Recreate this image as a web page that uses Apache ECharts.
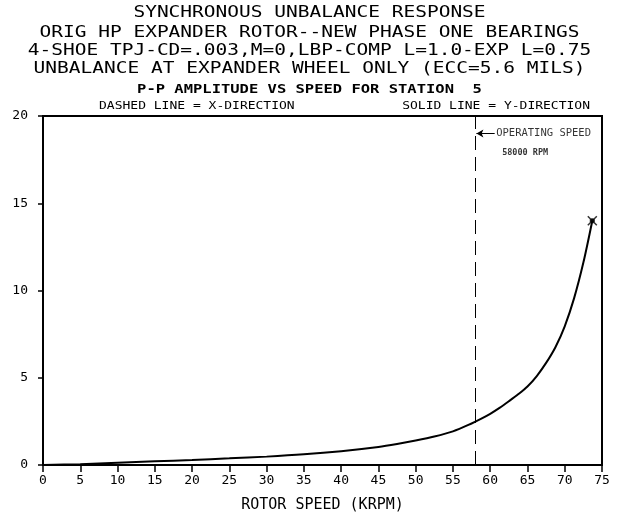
<!DOCTYPE html>
<html>
<head>
<meta charset="utf-8">
<script src="https://cdn.jsdelivr.net/npm/echarts@6/dist/echarts.min.js"></script>
<style>
  html, body { margin: 0; padding: 0; background: #fff; }
  #graph { width: 619px; height: 516px; }
</style>
</head>
<body>
<div id="graph"></div>
<script>
// rotor speed (krpm) and p-p amplitude
var speeds = [0, 5, 10, 15, 20, 25, 30, 35, 40, 45, 47.5, 50, 52.5, 55, 57.5, 58.75, 60, 61.25, 62.5, 63.75, 65, 66.25, 67.5, 68.75, 70, 71.25, 72.5, 73.7];
var amplitudes = [0, 0.05, 0.13, 0.21, 0.29, 0.38, 0.48, 0.61, 0.79, 1.03, 1.2, 1.4, 1.63, 1.93, 2.38, 2.64, 2.93, 3.27, 3.65, 4.05, 4.5, 5.1, 5.85, 6.75, 7.95, 9.55, 11.6, 14.0];

// operating speed marker
var operatingSpeed = 58;
var operatingLabel = 'OPERATING SPEED';
var operatingRpm = '58000 RPM';

// titles
var titleLines = [
    'SYNCHRONOUS UNBALANCE RESPONSE',
    'ORIG HP EXPANDER ROTOR--NEW PHASE ONE BEARINGS',
    '4-SHOE TPJ-CD=.003,M=0,LBP-COMP L=1.0-EXP L=0.75',
    'UNBALANCE AT EXPANDER WHEEL ONLY (ECC=5.6 MILS)'
];
var subTitle = 'P-P AMPLITUDE VS SPEED FOR STATION  5';
var legendLeft = 'DASHED LINE = X-DIRECTION';
var legendRight = 'SOLID LINE = Y-DIRECTION';
var xAxisName = 'ROTOR SPEED (KRPM)';

var FONT = '"DejaVu Sans Mono", monospace';

// build the curve points
var curve = [];
for (var i = 0; i < speeds.length; i++) {
    curve.push([speeds[i], amplitudes[i]]);
}
var lastPoint = curve[curve.length - 1];

var chart = echarts.init(document.getElementById('graph'));

// title texts, stretched a bit to look like the plotter font
var titleY = [13, 33, 51, 69];
var graphics = [];
for (var j = 0; j < titleLines.length; j++) {
    graphics.push({
        type: 'text', x: 309.5, y: titleY[j], scaleX: 1.3,
        style: { text: titleLines[j], font: '15px ' + FONT, fill: '#000',
                 textAlign: 'center', textVerticalAlign: 'middle' }
    });
}
graphics.push({
    type: 'text', x: 309.5, y: 90, scaleX: 1.29,
    style: { text: subTitle, font: 'bold 12px ' + FONT, fill: '#000',
             textAlign: 'center', textVerticalAlign: 'middle' }
});
graphics.push({
    type: 'text', x: 99, y: 106.5, scaleX: 1.3,
    style: { text: legendLeft, font: '10px ' + FONT, fill: '#000',
             textAlign: 'left', textVerticalAlign: 'middle' }
});
graphics.push({
    type: 'text', x: 590, y: 106.5, scaleX: 1.3,
    style: { text: legendRight, font: '10px ' + FONT, fill: '#000',
             textAlign: 'right', textVerticalAlign: 'middle' }
});

var option = {
    animation: false,
    backgroundColor: '#fff',
    graphic: graphics,
    grid: {
        left: 43, right: 17, top: 116, bottom: 51,
        outerBoundsMode: 'none',
        show: true, borderColor: '#000', borderWidth: 2
    },
    xAxis: {
        type: 'value', min: 0, max: 75, interval: 5,
        name: xAxisName, nameLocation: 'middle', nameGap: 33,
        nameTextStyle: { fontFamily: FONT, fontSize: 15, color: '#000' },
        axisLine: { show: true, lineStyle: { color: '#000', width: 2 } },
        axisTick: { show: true, length: 7, lineStyle: { color: '#000', width: 1.5 } },
        axisLabel: { fontFamily: FONT, fontSize: 13, color: '#000', margin: 9 },
        splitLine: { show: false }
    },
    yAxis: {
        type: 'value', min: 0, max: 20, interval: 5,
        axisLine: { show: true, lineStyle: { color: '#000', width: 2 } },
        axisTick: { show: true, length: 5, lineStyle: { color: '#000', width: 1.5 } },
        axisLabel: { fontFamily: FONT, fontSize: 13, color: '#000', margin: 15 },
        splitLine: { show: false }
    },
    series: [{
        // Y-direction response (solid)
        type: 'line',
        data: curve,
        smooth: 0.3,
        symbol: 'none',
        lineStyle: { color: '#000', width: 2 },
        markLine: {
            silent: true,
            symbol: ['none', 'none'],
            label: { show: false },
            lineStyle: { color: '#000', width: 1, type: [14, 7] },
            data: [{ xAxis: operatingSpeed }]
        }
    }, {
        // arrow pointing at the operating speed line
        type: 'line',
        data: [],
        markLine: {
            silent: true,
            symbol: ['none', 'arrow'],
            symbolSize: [6, 7],
            label: { show: false },
            lineStyle: { color: '#000', width: 1, type: 'solid' },
            data: [[{ coord: [60.6, 19.0] }, { coord: [58.15, 19.0] }]]
        }
    }, {
        // annotation text
        type: 'scatter',
        symbol: 'circle',
        symbolSize: 1,
        itemStyle: { color: 'rgba(0,0,0,0)' },
        data: [
            { value: [60.6, 19.0], label: { formatter: operatingLabel, fontSize: 10.5 } },
            { value: [61.4, 17.9], label: { formatter: operatingRpm, fontWeight: 'bold', fontSize: 8.5 } }
        ],
        label: {
            show: true, position: 'right', distance: 1,
            fontFamily: FONT, color: '#000'
        }
    }, {
        // end point marker
        type: 'scatter',
        data: [lastPoint],
        symbol: 'path://M0,0L10,10M10,0L0,10M3,3L7,3L7,7L3,7Z',
        symbolSize: 9,
        itemStyle: { color: '#000', borderColor: '#000', borderWidth: 1.5 }
    }]
};

chart.setOption(option);
</script>
</body>
</html>
